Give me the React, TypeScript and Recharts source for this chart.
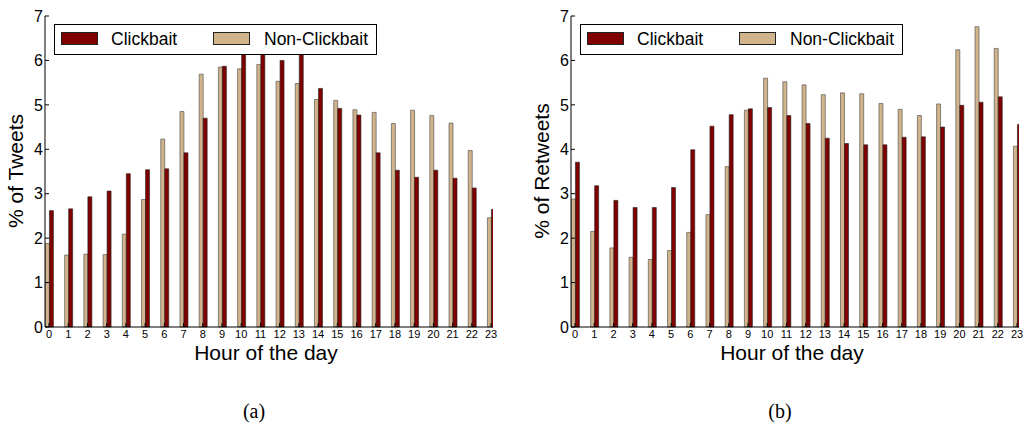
import React from 'react';
import { BarChart, Bar, XAxis, YAxis } from 'recharts';

// hour of day categories
const hours = [0, 1, 2, 3, 4, 5, 6, 7, 8, 9, 10, 11, 12, 13, 14, 15, 16, 17, 18, 19, 20, 21, 22, 23];
const yTicks = [0, 1, 2, 3, 4, 5, 6, 7];

// (a) % of tweets
const tweetsClickbait = [2.62, 2.66, 2.93, 3.06, 3.45, 3.54, 3.56, 3.92, 4.7, 5.87, 6.4, 6.3, 6.0, 6.2, 5.37, 4.92, 4.77, 3.92, 3.53, 3.37, 3.53, 3.35, 3.13, 2.65];
const tweetsNonClickbait = [1.88, 1.62, 1.64, 1.63, 2.09, 2.87, 4.23, 4.85, 5.69, 5.85, 5.81, 5.91, 5.53, 5.48, 5.12, 5.1, 4.89, 4.83, 4.58, 4.88, 4.76, 4.59, 3.97, 2.46];

// (b) % of retweets
const retweetsClickbait = [3.71, 3.18, 2.85, 2.69, 2.69, 3.14, 3.99, 4.52, 4.78, 4.91, 4.94, 4.76, 4.58, 4.25, 4.13, 4.1, 4.1, 4.27, 4.28, 4.5, 4.99, 5.06, 5.18, 4.56];
const retweetsNonClickbait = [2.88, 2.15, 1.78, 1.57, 1.52, 1.72, 2.13, 2.53, 3.61, 4.88, 5.6, 5.52, 5.45, 5.23, 5.27, 5.25, 5.03, 4.9, 4.76, 5.02, 6.24, 6.76, 6.27, 4.07];

const RED = '#800000';
const TAN = '#D2B48C';
const FONT = '"Liberation Sans", Arial, sans-serif';

interface PanelProps {
  left: number;
  clickbait: number[];
  nonClickbait: number[];
  yLabel: string;
  caption: string;
}

const Swatch: React.FC<{ color: string; x: number }> = ({ color, x }) => (
  <div style={{ position: 'absolute', left: x, top: 7, width: 35, height: 11, background: color, border: '1px solid #222' }} />
);

const Panel: React.FC<PanelProps> = ({ left, clickbait, nonClickbait, yLabel, caption }) => {
  const data = hours.map((h, i) => ({ hour: h, clickbait: clickbait[i], nonClickbait: nonClickbait[i] }));

  return (
    <div style={{ position: 'absolute', left, top: 0, width: 500, height: 425, fontFamily: FONT }}>
      <BarChart
        width={500}
        height={425}
        data={data}
        barSize={4}
        barGap={0}
        margin={{ top: 16, right: 7, bottom: 68, left: 0 }}
      >
        <XAxis
          xAxisId="b"
          dataKey="hour"
          type="number"
          domain={[-0.21, 23.1]}
          allowDataOverflow
          ticks={hours}
          interval={0}
          height={30}
          tickSize={-4}
          tickMargin={7}
          stroke="#000"
          tick={{ fill: '#000', fontSize: 11 }}
        />
        <XAxis
          xAxisId="t"
          orientation="top"
          dataKey="hour"
          type="number"
          domain={[-0.21, 23.1]}
          allowDataOverflow
          ticks={hours}
          interval={0}
          height={0}
          tickSize={-4}
          stroke="#000"
          tickFormatter={() => ''}
        />
        <YAxis
          yAxisId="l"
          domain={[0, 7]}
          ticks={yTicks}
          interval={0}
          width={45}
          tickSize={-4}
          tickMargin={6}
          stroke="#000"
          tick={{ fill: '#000', fontSize: 16 }}
        />
        <YAxis
          yAxisId="r"
          orientation="right"
          domain={[0, 7]}
          ticks={yTicks}
          interval={0}
          width={0}
          tickSize={-4}
          stroke="#000"
          tickFormatter={() => ''}
        />
        <Bar xAxisId="b" yAxisId="l" dataKey="nonClickbait" fill={TAN} stroke="#444" strokeWidth={0.6} isAnimationActive={false} />
        <Bar xAxisId="b" yAxisId="l" dataKey="clickbait" fill={RED} stroke="#222" strokeWidth={0.6} isAnimationActive={false} />
      </BarChart>

      {/* legend box */}
      <div
        style={{
          position: 'absolute', left: 54, top: 24, width: 321, height: 29,
          background: '#fff', border: '1px solid #000', fontSize: 17.5, color: '#000',
        }}
      >
        <Swatch color={RED} x={6} />
        <span style={{ position: 'absolute', left: 56, top: 3, lineHeight: '22px' }}>Clickbait</span>
        <Swatch color={TAN} x={158} />
        <span style={{ position: 'absolute', left: 209, top: 3, lineHeight: '22px' }}>Non-Clickbait</span>
      </div>

      <div
        style={{
          position: 'absolute', left: 16, top: 171, fontSize: 21, whiteSpace: 'nowrap', color: '#000',
          transform: 'translate(-50%, -50%) rotate(-90deg)', lineHeight: '24px',
        }}
      >
        {yLabel}
      </div>
      <div
        style={{
          position: 'absolute', left: 266, top: 345, fontSize: 21, whiteSpace: 'nowrap', color: '#000',
          transform: 'translateX(-50%)', lineHeight: '15px',
        }}
      >
        Hour of the day
      </div>
      <div
        style={{
          position: 'absolute', left: 254, top: 400, fontSize: 20, whiteSpace: 'nowrap', color: '#000',
          transform: 'translateX(-50%)', fontFamily: '"Liberation Serif", serif', lineHeight: '22px',
        }}
      >
        {caption}
      </div>
    </div>
  );
};

export default function App() {
  return (
    <div style={{ position: 'fixed', left: 0, top: 0, width: 1026, height: 425, background: '#fff', overflow: 'hidden' }}>
      <Panel left={0} clickbait={tweetsClickbait} nonClickbait={tweetsNonClickbait} yLabel="% of Tweets" caption="(a)" />
      <Panel left={526} clickbait={retweetsClickbait} nonClickbait={retweetsNonClickbait} yLabel="% of Retweets" caption="(b)" />
    </div>
  );
}
